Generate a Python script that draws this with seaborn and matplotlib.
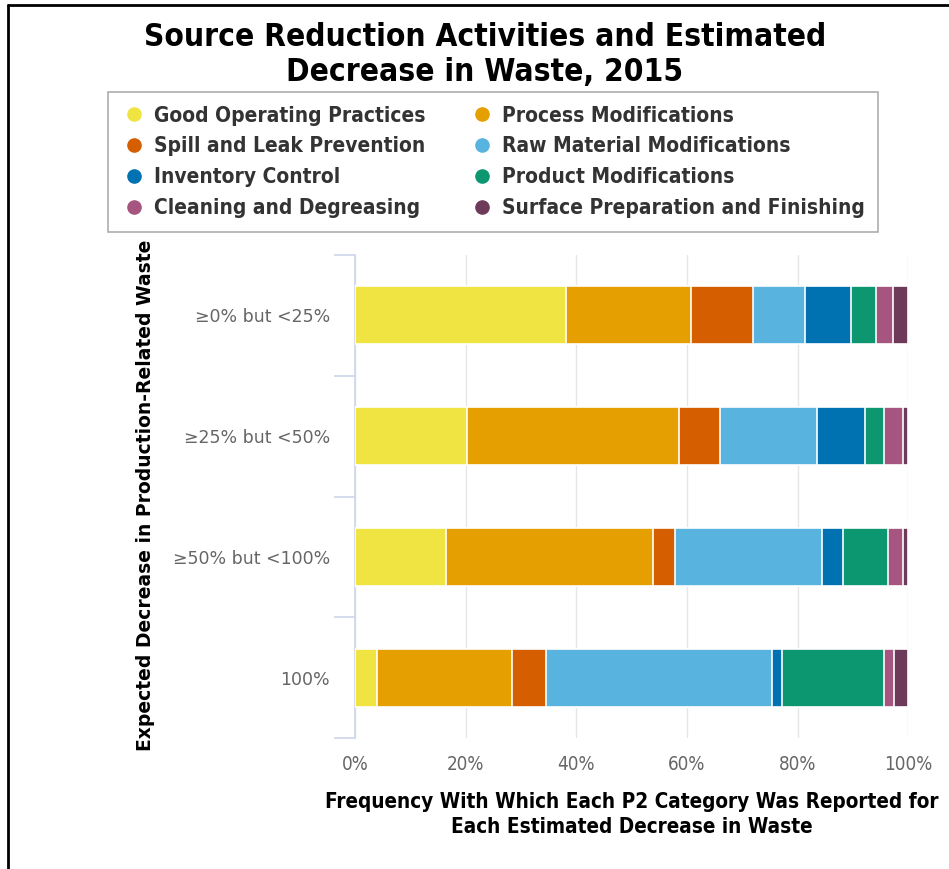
import pandas as pd
import matplotlib.pyplot as plt
import seaborn as sns
from matplotlib.lines import Line2D

categories = ["\u22650% but <25%", "\u226525% but <50%", "\u226550% but <100%", "100%"]
series = [
    "Good Operating Practices", "Process Modifications",
    "Spill and Leak Prevention", "Raw Material Modifications",
    "Inventory Control", "Product Modifications",
    "Cleaning and Degreasing", "Surface Preparation and Finishing",
]
good_operating = [38.2, 20.2, 16.4, 3.9]
process_mod = [22.5, 38.3, 37.4, 24.4]
spill_leak = [11.2, 7.5, 4.1, 6.2]
raw_material = [9.4, 17.5, 26.5, 40.9]
inventory = [8.4, 8.7, 3.8, 1.8]
product_mod = [4.4, 3.5, 8.1, 18.5]
cleaning = [3.1, 3.4, 2.8, 1.8]
surface_prep = [2.8, 0.9, 0.9, 2.5]
colors = ["#F0E442", "#E69F00", "#D55E00", "#58B3DF",
          "#0072B2", "#0C9771", "#A5557F", "#6E3A59"]

df = pd.DataFrame(dict(zip(series, [good_operating, process_mod, spill_leak, raw_material,
                                    inventory, product_mod, cleaning, surface_prep])),
                  index=categories)
cum = df.cumsum(axis=1)

sns.set_theme(style="white")
plt.rcParams['font.family'] = ['DejaVu Sans']
narrow = ['DejaVu Sans Condensed', 'DejaVu Sans']

fig = plt.figure(figsize=(9.49, 8.69), dpi=100)
ax = fig.add_axes([0.374, 0.1507, 0.583, 0.5559])

# draw cumulative totals from the widest down so each segment shows
for col, c in reversed(list(zip(series, colors))):
    sns.barplot(x=cum[col].values, y=categories, color=c, orient="h", width=0.48,
                saturation=1, edgecolor="white", linewidth=1.2, ax=ax, zorder=3)

ax.set_xlim(0, 100)
ax.set_ylim(3.5, -0.5)
ax.set_xticks([0, 20, 40, 60, 80, 100])
ax.set_xticklabels(["0%", "20%", "40%", "60%", "80%", "100%"], family=narrow,
                   stretch="condensed", fontsize=13.5, color="#666666")
ax.xaxis.grid(True, color="#e6e6e6", linewidth=1, zorder=0)
ax.set_axisbelow(True)
ax.tick_params(axis="x", length=0, pad=12)
ax.tick_params(axis="y", which="major", length=0, pad=18, labelsize=12.5, labelcolor="#666666")
ax.set_yticks([-0.5, 0.5, 1.5, 2.5, 3.5], minor=True)
ax.tick_params(axis="y", which="minor", left=True, length=15, color="#ccd6eb", width=1.2)
for s in ["top", "right", "bottom"]:
    ax.spines[s].set_visible(False)
ax.spines["left"].set_color("#ccd6eb")
ax.spines["left"].set_linewidth(1.2)

ax.set_xlabel("Frequency With Which Each P2 Category Was Reported for\nEach Estimated Decrease in Waste",
              family=narrow, stretch="condensed", fontsize=14.9, fontweight="bold",
              color="black", labelpad=13, linespacing=1.3)
ax.set_ylabel("")
fig.text(0.153, 0.43, "Expected Decrease in Production-Related Waste", rotation=90,
         ha="center", va="center", fontsize=13.5, fontweight="bold", color="black")

fig.text(0.511, 0.937, "Source Reduction Activities and Estimated\nDecrease in Waste, 2015",
         ha="center", va="center", family=narrow, stretch="condensed", fontsize=22.7,
         fontweight="bold", color="black", linespacing=1.18)

handles = [Line2D([], [], marker="o", linestyle="", markersize=9.5, color=c) for c in colors]
order = [0, 2, 4, 6, 1, 3, 5, 7]
leg = fig.legend([handles[i] for i in order], [series[i] for i in order], ncol=2,
                 loc="upper center", bbox_to_anchor=(0.5195, 0.894), borderaxespad=0,
                 frameon=True, fancybox=False, edgecolor="#999999",
                 prop={"family": narrow, "stretch": "condensed", "size": 15, "weight": "bold"},
                 labelcolor="#333333", handletextpad=0.36, columnspacing=2.1,
                 labelspacing=0.52, borderpad=0.65, handlelength=1.2)
leg.get_frame().set_linewidth(1.2)

fig.add_artist(Line2D([0.0085, 1.0], [0.9942, 0.9942], color="black", linewidth=2,
                      transform=fig.transFigure))
fig.add_artist(Line2D([0.0085, 0.0085], [0.0, 0.9942], color="black", linewidth=2,
                      transform=fig.transFigure))

fig.savefig("out.png", dpi=100)
